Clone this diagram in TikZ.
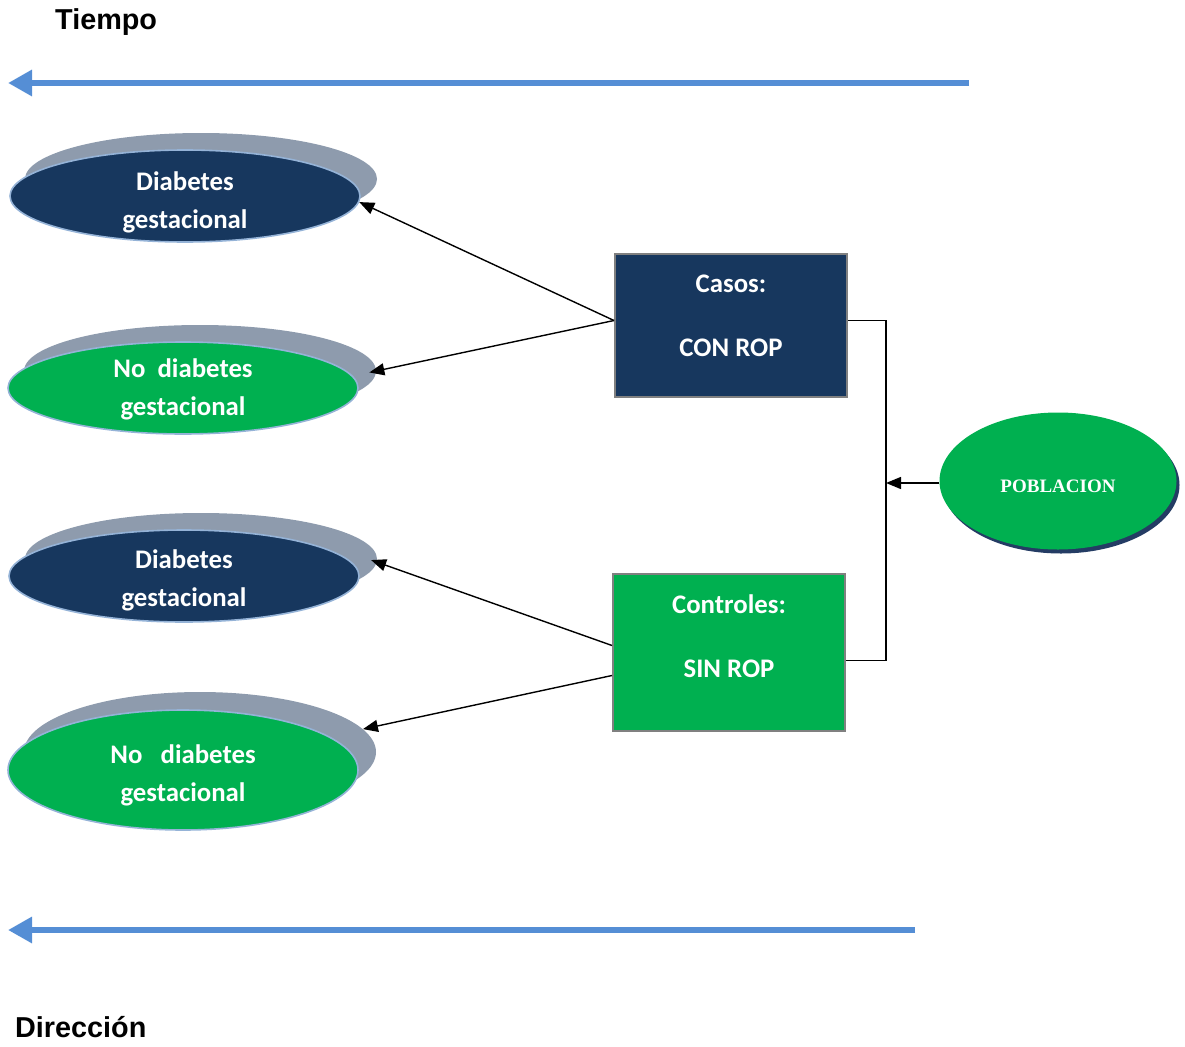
\documentclass[tikz,border=0pt]{standalone}
\usepackage{fontspec}
\setmainfont{Liberation Sans}
\newfontfamily\calfont{Carlito}
\newfontfamily\serfont{Liberation Serif}
\usetikzlibrary{shapes.geometric,arrows.meta}
\definecolor{navy}{RGB}{23,55,94}
\definecolor{grn}{RGB}{0,176,80}
\definecolor{shd}{RGB}{142,155,173}
\definecolor{rimblue}{RGB}{149,179,215}
\definecolor{arrblue}{RGB}{85,142,213}
\definecolor{boxgray}{RGB}{128,128,128}
\definecolor{pobshd}{RGB}{36,60,100}
\tikzset{
  ell/.style={ellipse, draw=rimblue, line width=1.6pt, inner sep=0pt, minimum width=350pt, minimum height=92pt},
  ellshadow/.style={ellipse, fill=shd, inner sep=0pt, minimum width=352pt, minimum height=92pt},
  etext/.style={text=white, font=\calfont\bfseries\fontsize{26.8}{38}\selectfont, align=center},
  rbox/.style={rectangle, draw=boxgray, line width=2pt, inner sep=0pt},
  btext/.style={text=white, font=\calfont\bfseries\fontsize{26.8}{38}\selectfont, align=center},
  title/.style={font=\bfseries\fontsize{28.8}{32}\selectfont, anchor=west, inner sep=0pt},
  timearrow/.style={draw=arrblue, line width=6pt, -{Triangle[length=24pt,width=25pt]}},
  conn/.style={draw=black, line width=1.4pt, -{Triangle[length=15pt,width=12pt]}},
  bus/.style={draw=black, line width=1.8pt}
}
\begin{document}
\begin{tikzpicture}[x=1pt,y=-1pt]
\useasboundingbox (0,0) rectangle (1185,1046);

% titles
\node[title] (tiempo) at (55,22) {Tiempo};
\node[title] (direccion) at (15,1027) {Dirección};

% time arrows
\coordinate (ta1) at (969,83);
\coordinate (ta2) at (8,83);
\draw[timearrow] (ta1) -- (ta2);
\coordinate (tb1) at (915,930);
\coordinate (tb2) at (8,930);
\draw[timearrow] (tb1) -- (tb2);

% shadows
\node[ellshadow] (s1) at (201,179) {};
\node[ellshadow] (s2) at (200,371) {};
\node[ellshadow] (s3) at (201,559) {};
\node[ellshadow, minimum height=120pt] (s4) at (200,752) {};

% ellipses
\node[ell, fill=navy] (d1) at (185,196) {};
\node[etext] (d1t) at (185,202) {Diabetes\\gestacional};
\node[ell, fill=grn] (n1) at (183,388) {};
\node[etext] (n1t) at (183,389) {No\ \ diabetes\\gestacional};
\node[ell, fill=navy] (d2) at (184,576) {};
\node[etext] (d2t) at (184,580) {Diabetes\\gestacional};
\node[ell, fill=grn, minimum height=120pt] (n2) at (183,770) {};
\node[etext] (n2t) at (183,775) {No\ \ \ diabetes\\gestacional};

% boxes
\node[rbox, fill=navy, minimum width=232pt, minimum height=143pt] (casos) at (731,325.5) {};
\node[btext] (casost) at (731,316) {Casos:\\[26pt]CON ROP};
\node[rbox, fill=grn, minimum width=232pt, minimum height=157pt] (ctrl) at (729,652.5) {};
\node[btext] (ctrlt) at (729,636) {Controles:\\[26pt]SIN ROP};

% poblacion
\node[ellipse, fill=pobshd, inner sep=0pt, minimum width=237pt, minimum height=137pt] (pobs) at (1061,485) {};
\node[ellipse, fill=grn, inner sep=0pt, minimum width=237pt, minimum height=137pt] (pob) at (1058,481) {};
\node[text=white, font=\serfont\bfseries\fontsize{19}{22}\selectfont] (pobt) at (1058,486) {POBLACION};

% connectors
\coordinate (cs) at ([yshift=5pt]casos.west);
\draw[conn] (cs) -- (d1.-2);
\draw[conn, shorten >=-7pt] (cs) -- (s2.east);
\draw[conn, shorten >=-6pt] ([yshift=7pt]ctrl.west) -- (s3.-1);
\draw[conn] ([yshift=-23pt]ctrl.west) -- (s4.8);

\coordinate (busx) at (886,483);
\draw[bus] ([yshift=5pt]casos.east) -- ([yshift=5pt]casos.east -| busx) -- ([yshift=-8pt]ctrl.east -| busx) -- ([yshift=-8pt]ctrl.east);
\draw[conn] ([yshift=-2pt]pob.west) -- (busx);
\end{tikzpicture}
\end{document}
